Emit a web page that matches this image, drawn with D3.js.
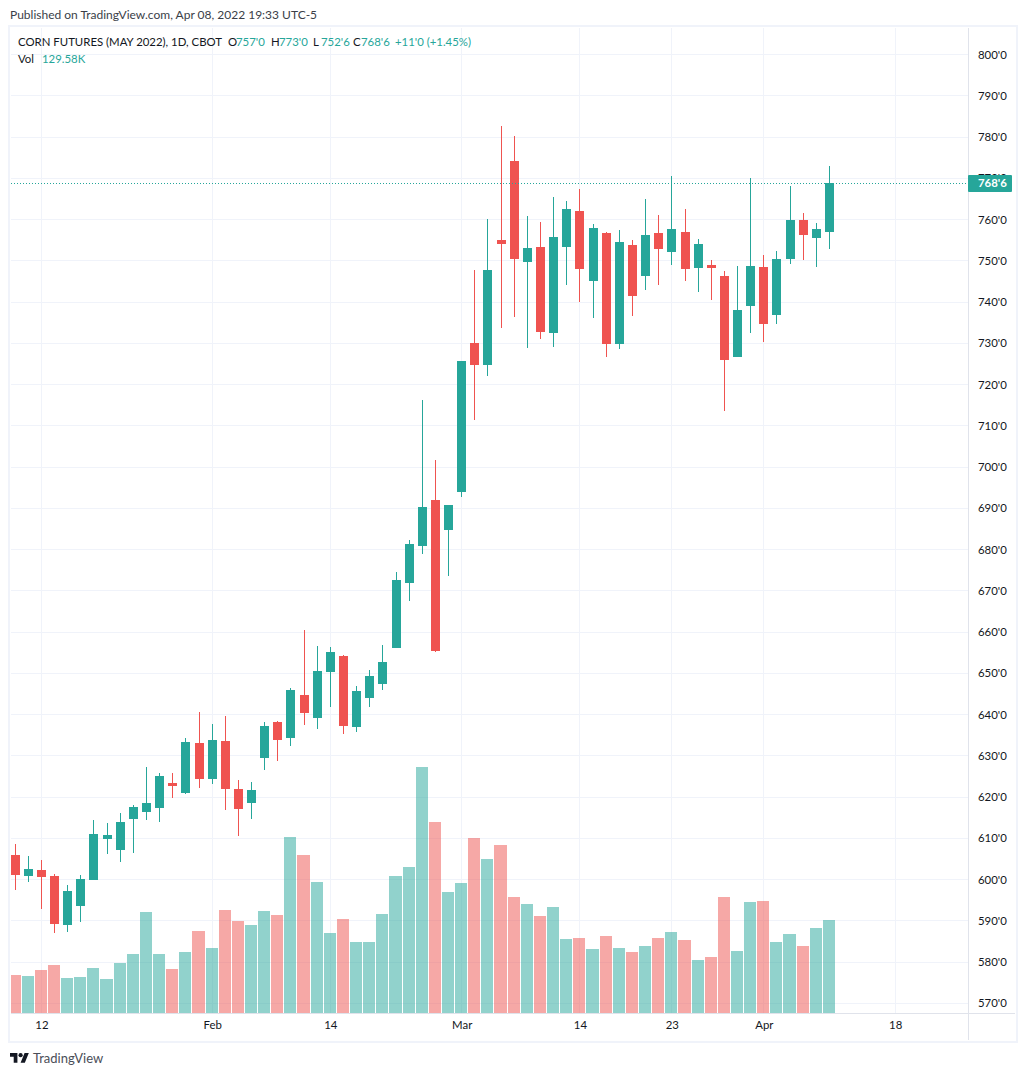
<!DOCTYPE html>
<html><head><meta charset="utf-8">
<script src="https://cdnjs.cloudflare.com/ajax/libs/d3/7.8.5/d3.min.js"></script>
<style>html,body{margin:0;padding:0;background:#fff}svg{display:block}text{font-family:Lato,sans-serif}</style>
</head><body><svg id="c" width="1026" height="1076"></svg>
<script>
const dates=["01-10","01-11","01-12","01-13","01-14","01-18","01-19","01-20","01-21","01-24","01-25","01-26","01-27","01-28","01-31",
"02-01","02-02","02-03","02-04","02-07","02-08","02-09","02-10","02-11","02-14","02-15","02-16","02-17","02-18","02-22","02-23","02-24","02-25","02-28",
"03-01","03-02","03-03","03-04","03-07","03-08","03-09","03-10","03-11","03-14","03-15","03-16","03-17","03-18","03-21","03-22","03-23","03-24","03-25","03-28","03-29","03-30","03-31",
"04-01","04-04","04-05","04-06","04-07","04-08","04-11","04-12","04-13","04-14","04-18"];
const opens=[605.94,600.85,602.30,600.85,588.97,593.58,599.88,609.82,607.15,614.67,616.36,617.33,623.39,620.97,633.09,624.36,633.58,621.94,618.55,629.45,638.18,634.30,644.73,639.15,650.30,654.18,636.97,644.00,647.39,656.12,671.88,680.85,692.00,684.73,693.94,730.06,724.73,755.03,774.18,749.70,753.33,732.48,753.33,762.06,745.09,756.73,729.82,753.82,746.30,756.73,752.12,756.97,748.24,748.97,746.30,726.67,739.03,748.48,736.85,750.42,759.88,755.52,757.00];
const highs=[608.61,605.70,604.73,601.33,598.67,601.09,614.42,613.70,616.12,618.06,627.27,625.82,625.82,634.30,640.61,637.70,639.64,624.12,623.64,638.18,638.42,646.42,660.48,656.61,656.36,654.42,646.91,650.79,656.85,674.55,682.30,716.24,701.70,690.79,725.70,747.76,760.12,782.67,780.24,760.85,759.39,765.45,764.48,767.39,758.91,756.97,757.45,755.03,764.97,761.09,770.55,762.55,755.27,750.18,747.52,748.73,770.06,751.39,752.36,768.12,761.58,759.15,773.00];
const lows=[597.46,599.39,592.85,587.03,587.27,589.70,599.88,606.18,604.24,606.42,614.42,613.94,619.76,620.73,622.18,623.15,616.85,610.55,614.67,626.55,628.73,632.36,637.45,636.48,641.82,635.27,635.76,641.82,645.94,656.12,667.52,678.91,655.15,673.58,692.73,711.39,722.06,733.70,736.36,728.85,731.03,729.09,744.12,740.00,736.12,726.67,728.61,736.61,742.91,744.12,748.97,745.09,742.42,740.48,713.58,726.67,732.48,730.30,734.67,749.21,750.18,748.48,752.75];
const closes=[601.09,602.55,600.61,589.21,597.21,600.12,611.03,610.79,613.94,617.58,618.55,625.09,622.67,633.33,624.36,633.82,621.94,617.09,621.70,637.21,633.82,645.94,640.36,650.55,655.15,637.21,645.70,649.33,652.73,672.61,681.33,690.30,655.39,690.79,725.70,724.73,747.76,754.06,750.42,753.09,732.73,755.76,762.55,748.00,757.94,729.82,754.55,741.45,756.24,752.85,757.70,748.00,754.06,748.24,725.94,738.06,748.73,734.67,750.42,759.88,756.24,757.70,768.75];
const volumes=[52.9,51.5,59.9,66.9,48.8,50.1,62.7,47.4,69.7,82.2,140.7,82.2,61.3,85,114.2,90.5,143.5,128.2,122.6,142.1,136.5,245.2,220.1,182.5,111.4,130.9,98.9,98.9,137.9,190.8,203.4,342.7,266.1,168.6,181.1,243.8,214.5,234,161.6,151.8,135.1,147.7,103.1,104.5,89.2,107.3,90.5,85,93.3,104.5,112.8,101.7,73.8,78,161.6,86.4,154.6,156,98.9,110,93.3,118.4,129.58];
const priceTicks=d3.range(570,801,10);
const tickDates=["01-12","02-01","02-14","03-01","03-14","03-23","04-01","04-18"];
const tickLabels=["12","Feb","14","Mar","14","23","Apr","18"];
const lastClose="768'6";
const legendTitle="CORN FUTURES (MAY 2022), 1D, CBOT";
const legendKeys=["O","H","L","C"];
const legendVals=["757'0","773'0","752'6","768'6"];
const legendChange="+11'0 (+1.45%)";
const volLabel="Vol",volValue="129.58K";
const publishedText="Published on TradingView.com, Apr 08, 2022 19:33 UTC-5";
const brandText="TradingView";

const UP="#26a69a",DOWN="#ef5350",GRID="#f0f3fa",LINE="#e0e3eb",INK="#131722";
const FS=11.4;
const L=10,R=968,T=28,B=1013,F=1040;
const svg=d3.select("#c");
const x=d3.scalePoint().domain(dates).range([15.12,895.17]);
const y=d3.scaleLinear().domain([570,800]).range([1003.25,54.5]);
const yVol=d3.scaleLinear().domain([0,129.58]).range([B,920]);
const px=d=>Math.floor(x(d));
const py=v=>Math.round(y(v));

// frame
svg.append("rect").attr("x",L-1).attr("y",T-2).attr("width",1017-L+1).attr("height",F+2-T+2).attr("fill","none").attr("stroke",GRID).attr("stroke-width",2);
svg.append("defs").append("clipPath").attr("id","plot").append("rect").attr("x",L+1).attr("y",T).attr("width",R-L-1).attr("height",B-T);

// grid
svg.append("g").selectAll("rect").data(priceTicks).join("rect").attr("x",L+1).attr("width",R-L-1).attr("y",d=>Math.floor(y(d))).attr("height",1).attr("fill",GRID);
svg.append("g").selectAll("rect").data(tickDates).join("rect").attr("x",d=>px(d)).attr("width",1).attr("y",T).attr("height",B-T).attr("fill",GRID);

// volume
const plot=svg.append("g").attr("clip-path","url(#plot)");
plot.append("g").attr("opacity",0.5).selectAll("rect").data(volumes).join("rect")
 .attr("x",(d,i)=>i?px(dates[i-1])+7:px(dates[0])-6)
 .attr("width",(d,i)=>px(dates[i])+6-(i?px(dates[i-1])+7:px(dates[0])-6))
 .attr("y",d=>Math.round(yVol(d))).attr("height",d=>B-Math.round(yVol(d)))
 .attr("fill",(d,i)=>closes[i]>=opens[i]?UP:DOWN);

// last price line
svg.append("line").attr("x1",L+1).attr("x2",R).attr("y1",py(closes[62])+.5).attr("y2",py(closes[62])+.5)
 .attr("stroke",UP).attr("stroke-width",1).attr("stroke-dasharray","1 2");

// candles
const c=plot.append("g").selectAll("g").data(opens).join("g").attr("fill",(d,i)=>closes[i]>=opens[i]?UP:DOWN);
c.append("rect").attr("x",(d,i)=>px(dates[i])).attr("width",1).attr("y",(d,i)=>py(highs[i])).attr("height",(d,i)=>py(lows[i])-py(highs[i]));
c.append("rect").attr("x",(d,i)=>px(dates[i])-4).attr("width",9)
 .attr("y",(d,i)=>py(Math.max(opens[i],closes[i])))
 .attr("height",(d,i)=>py(Math.min(opens[i],closes[i]))-py(Math.max(opens[i],closes[i])));

// axes
svg.append("rect").attr("x",R).attr("y",T).attr("width",1).attr("height",F-T).attr("fill",LINE);
svg.append("rect").attr("x",L+1).attr("y",B).attr("width",1015-L-1).attr("height",1).attr("fill",LINE);
const ay=svg.append("g").attr("transform",`translate(${R},0)`).call(d3.axisRight(y).tickValues(priceTicks).tickSize(0).tickPadding(10).tickFormat(d=>d+"'0"));
ay.select(".domain").remove();
ay.selectAll("text").attr("font-size",FS).attr("fill",INK).attr("font-family","Lato,sans-serif");
const ax=svg.append("g").attr("transform",`translate(0,${B})`).call(d3.axisBottom(x).tickValues(tickDates).tickSize(0).tickPadding(8).tickFormat(d=>tickLabels[tickDates.indexOf(d)]));
ax.select(".domain").remove();
ax.selectAll("text").attr("font-size",FS).attr("fill",INK).attr("font-family","Lato,sans-serif");

// last price badge
const by=py(closes[62]);
svg.append("rect").attr("x",R).attr("y",by-8).attr("width",44).attr("height",17).attr("rx",1).attr("fill",UP);
svg.append("text").attr("x",978).attr("y",by+.5).attr("dy",".35em").attr("fill","#fff").attr("font-size",FS).attr("font-weight",700).text(lastClose);

// legend & captions
const t=(s,xp,yp,fill,size)=>svg.append("text").attr("x",xp).attr("y",yp).attr("fill",fill).attr("font-size",size||FS).text(s);
t(publishedText,10,19,"#3a3e48",12);
t(legendTitle,18,46,INK);
[228,271,313,353].forEach((p,i)=>{t(legendKeys[i],p,46,INK);t(legendVals[i],p+8,46,UP);});
t(legendChange,395,46,UP);
t(volLabel,18,63,INK);t(volValue,42,63,UP);

// brand
svg.append("path").attr("transform","translate(10,1051) scale(.53)").attr("fill",INK)
 .attr("d","M14 22H7V11H0V4h14v18zM28 22h-8l7.5-18h8L28 22z");
svg.append("circle").attr("transform","translate(10,1051) scale(.53)").attr("cx",20).attr("cy",8).attr("r",4).attr("fill",INK);
t(brandText,33,1063,"#4a4e58",13);
</script></body></html>
